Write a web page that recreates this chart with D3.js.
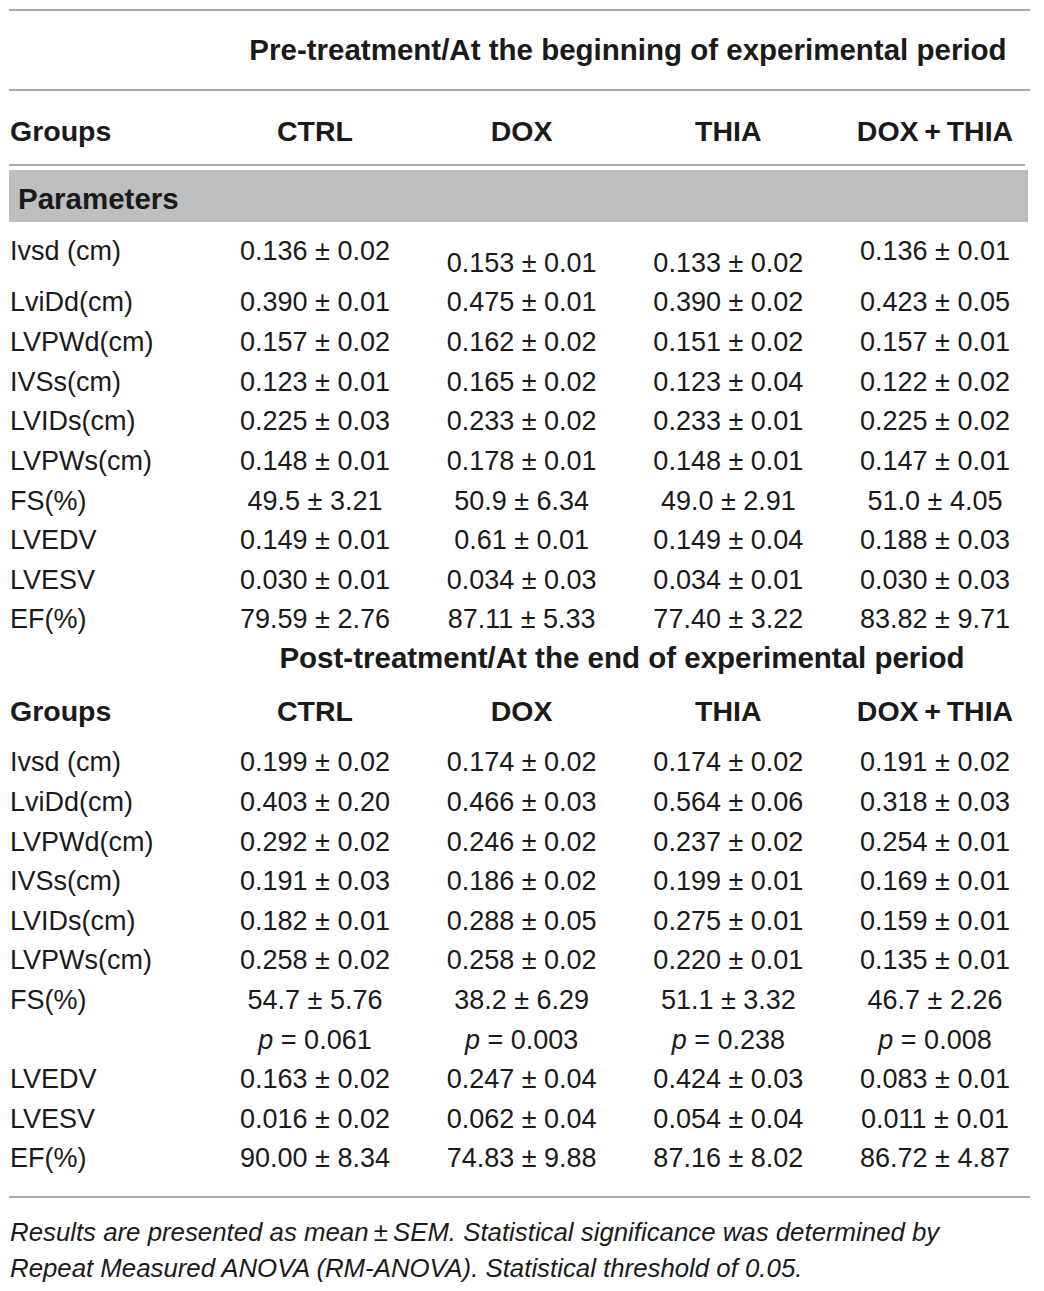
<!DOCTYPE html>
<html>
<head>
<meta charset="utf-8">
<title>Echocardiography table</title>
<style type="text/css">
body { margin: 0; background: #fff; }
text { font-family: "Liberation Sans", Arial, sans-serif; fill: #1a1a1a; }
.val { font-size: 27px; font-weight: 300; }
.hdr { font-size: 28.5px; font-weight: bold; }
.title { font-size: 29.5px; font-weight: bold; }
.note { font-size: 25.8px; font-style: italic; }
</style>
</head>
<body>
<svg width="1044" height="1291"></svg>
<script src="https://d3js.org/d3.v7.min.js"></script>
<script type="text/javascript">
var groups = ["CTRL", "DOX", "THIA", "DOX\u2009+\u2009THIA"];

var preTitle = "Pre-treatment/At the beginning of experimental period";
var postTitle = "Post-treatment/At the end of experimental period";

var params = ["Ivsd (cm)", "LviDd(cm)", "LVPWd(cm)", "IVSs(cm)", "LVIDs(cm)", "LVPWs(cm)", "FS(%)", "LVEDV", "LVESV", "EF(%)"];

// mean and SEM per group, rows follow params
var preCtrl = [["0.136", "0.02"], ["0.390", "0.01"], ["0.157", "0.02"], ["0.123", "0.01"], ["0.225", "0.03"], ["0.148", "0.01"], ["49.5", "3.21"], ["0.149", "0.01"], ["0.030", "0.01"], ["79.59", "2.76"]];
var preDox = [["0.153", "0.01"], ["0.475", "0.01"], ["0.162", "0.02"], ["0.165", "0.02"], ["0.233", "0.02"], ["0.178", "0.01"], ["50.9", "6.34"], ["0.61", "0.01"], ["0.034", "0.03"], ["87.11", "5.33"]];
var preThia = [["0.133", "0.02"], ["0.390", "0.02"], ["0.151", "0.02"], ["0.123", "0.04"], ["0.233", "0.01"], ["0.148", "0.01"], ["49.0", "2.91"], ["0.149", "0.04"], ["0.034", "0.01"], ["77.40", "3.22"]];
var preDoxThia = [["0.136", "0.01"], ["0.423", "0.05"], ["0.157", "0.01"], ["0.122", "0.02"], ["0.225", "0.02"], ["0.147", "0.01"], ["51.0", "4.05"], ["0.188", "0.03"], ["0.030", "0.03"], ["83.82", "9.71"]];

var postParams = ["Ivsd (cm)", "LviDd(cm)", "LVPWd(cm)", "IVSs(cm)", "LVIDs(cm)", "LVPWs(cm)", "FS(%)", "", "LVEDV", "LVESV", "EF(%)"];
var postCtrl = [["0.199", "0.02"], ["0.403", "0.20"], ["0.292", "0.02"], ["0.191", "0.03"], ["0.182", "0.01"], ["0.258", "0.02"], ["54.7", "5.76"], ["p", "0.061"], ["0.163", "0.02"], ["0.016", "0.02"], ["90.00", "8.34"]];
var postDox = [["0.174", "0.02"], ["0.466", "0.03"], ["0.246", "0.02"], ["0.186", "0.02"], ["0.288", "0.05"], ["0.258", "0.02"], ["38.2", "6.29"], ["p", "0.003"], ["0.247", "0.04"], ["0.062", "0.04"], ["74.83", "9.88"]];
var postThia = [["0.174", "0.02"], ["0.564", "0.06"], ["0.237", "0.02"], ["0.199", "0.01"], ["0.275", "0.01"], ["0.220", "0.01"], ["51.1", "3.32"], ["p", "0.238"], ["0.424", "0.03"], ["0.054", "0.04"], ["87.16", "8.02"]];
var postDoxThia = [["0.191", "0.02"], ["0.318", "0.03"], ["0.254", "0.01"], ["0.169", "0.01"], ["0.159", "0.01"], ["0.135", "0.01"], ["46.7", "2.26"], ["p", "0.008"], ["0.083", "0.01"], ["0.011", "0.01"], ["86.72", "4.87"]];

var notes = ["Results are presented as mean\u2009\u00b1\u2009SEM. Statistical significance was determined by",
             "Repeat Measured ANOVA (RM-ANOVA). Statistical threshold of 0.05."];

var svg = d3.select("svg"),
    left = 9, right = 1030;

// column centres
var x = d3.scalePoint().domain(groups).range([315, 935]);

function rule(y, x2) {
    svg.append("line")
        .attr("x1", left).attr("x2", x2 || right)
        .attr("y1", y).attr("y2", y)
        .attr("stroke", "#8c8c8c").attr("stroke-width", 1.6);
}

function cell(g, d) {
    var t = g.append("text").attr("class", "val").attr("text-anchor", "middle").attr("dy", "0.35em");
    if (d[0] === "p") {
        t.append("tspan").style("font-style", "italic").text("p");
        t.append("tspan").text(" = " + d[1]);
    } else {
        t.text(d[0] + " \u00b1 " + d[1]);
    }
}

function block(rowLabels, cols, rowY, offsets) {
    svg.append("g").selectAll("text")
        .data(rowLabels)
        .join("text")
        .attr("class", "val")
        .attr("x", 10)
        .attr("y", function(d, i) { return rowY(i); })
        .attr("dy", "0.35em")
        .text(function(d) { return d; });

    groups.forEach(function(grp, c) {
        cols[c].forEach(function(d, i) {
            var dy = (offsets && i === 0) ? offsets[c] : 0;
            var g = svg.append("g").attr("transform", "translate(" + x(grp) + "," + (rowY(i) + dy) + ")");
            cell(g, d);
        });
    });
}

function headerRow(y) {
    svg.append("text").attr("class", "hdr").attr("x", 10).attr("y", y).attr("dy", "0.35em").text("Groups");
    svg.append("g").selectAll("text")
        .data(groups)
        .join("text")
        .attr("class", "hdr")
        .attr("text-anchor", "middle")
        .attr("x", function(d) { return x(d); })
        .attr("y", y)
        .attr("dy", "0.35em")
        .text(function(d) { return d; });
}

// ---- pre-treatment ----
rule(10);
svg.append("text").attr("class", "title").attr("text-anchor", "middle")
    .attr("x", 628).attr("y", 50).attr("dy", "0.35em").text(preTitle);
rule(90);
headerRow(131);
rule(165, 1025);

svg.append("rect")
    .attr("x", left).attr("y", 170)
    .attr("width", 1028 - left).attr("height", 52)
    .attr("fill", "#bdbec0");
svg.append("text").attr("class", "title").attr("x", 18).attr("y", 199).attr("dy", "0.35em").text("Parameters");

var yPre = d3.scaleLinear().domain([1, 9]).range([302, 619]);
function preRowY(i) { return i === 0 ? 251 : yPre(i); }
// first row in the source sits lower in the DOX and THIA columns
block(params, [preCtrl, preDox, preThia, preDoxThia], preRowY, [0, 12, 12, 0]);

// ---- post-treatment ----
svg.append("text").attr("class", "title").attr("text-anchor", "middle")
    .attr("x", 622).attr("y", 658).attr("dy", "0.35em").text(postTitle);
headerRow(711);

var yPost = d3.scaleLinear().domain([0, 10]).range([762, 1158]);
block(postParams, [postCtrl, postDox, postThia, postDoxThia], yPost);

rule(1197);

svg.append("g").selectAll("text")
    .data(notes)
    .join("text")
    .attr("class", "note")
    .attr("x", 10)
    .attr("y", function(d, i) { return 1232 + i * 36; })
    .attr("dy", "0.35em")
    .text(function(d) { return d; });
</script>
</body>
</html>
